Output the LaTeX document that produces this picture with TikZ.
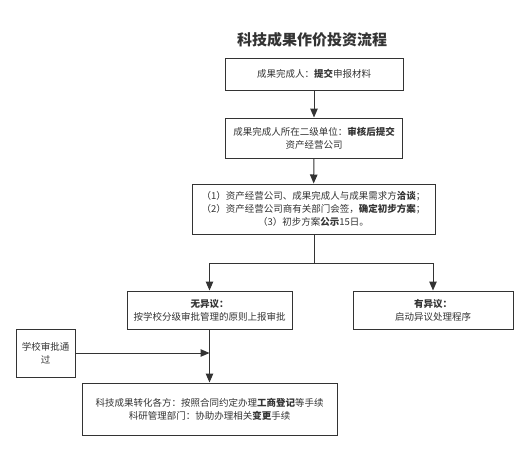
\documentclass[tikz,border=0pt]{standalone}
\usepackage{fontspec}
\newfontfamily\cjk{Noto Sans CJK SC}
\usetikzlibrary{arrows.meta}

\definecolor{linegray}{HTML}{333333}

\begin{document}
\begin{tikzpicture}[x=1pt,y=-1pt,
    box/.style={draw=linegray,line width=1pt,align=center,inner sep=0pt,
      font=\cjk\fontsize{9.5}{13}\selectfont,text=linegray},
    arr/.style={draw=linegray,line width=1pt,-{Triangle[length=9pt,width=7.5pt]}},
    conn/.style={draw=linegray,line width=1pt}]
  \useasboundingbox (0,0) rectangle (530,451);

  \node[font=\cjk\bfseries\fontsize{15}{18}\selectfont,text=linegray] (title) at (312,40) {科技成果作价投资流程};

  \node[box,minimum width=178pt,minimum height=32pt] (submit) at (314,74)
    {成果完成人：\textbf{提交}申报材料};
  \node[box,minimum width=177pt,minimum height=40pt] (unit) at (314,138)
    {成果完成人所在二级单位：\textbf{审核后提交}\\资产经营公司};
  \node[box,minimum width=243pt,minimum height=50pt] (talk) at (313.5,209)
    {（1）资产经营公司、成果完成人与成果需求方\textbf{洽谈}；\\
     （2）资产经营公司商有关部门会签，\textbf{确定初步方案}；\\
     （3）初步方案\textbf{公示}15日。};
  \node[box,minimum width=165pt,minimum height=38pt] (noobj) at (209.5,310)
    {\textbf{无异议：}\\按学校分级审批管理的原则上报审批};
  \node[box,minimum width=160pt,minimum height=38pt] (obj) at (433,310)
    {\textbf{有异议：}\\启动异议处理程序};
  \node[box,minimum width=59pt,minimum height=48pt] (school) at (45.5,353)
    {学校审批通\\过};
  \node[box,minimum width=255pt,minimum height=52pt] (final) at (209.5,409)
    {科技成果转化各方：按照合同约定办理\textbf{工商登记}等手续\\
     科研管理部门：协助办理相关\textbf{变更}手续};

  \coordinate (split) at (314,263);

  \draw[arr] (submit) -- (unit);
  \draw[arr] (unit) -- (talk);
  \draw[conn] (talk.south -| split) -- (split);
  \draw[arr] (split) -| (noobj.north);
  \draw[arr] (split) -| (obj.north);
  \draw[arr] (noobj) -- (final);
  \draw[arr] (school.east) -- (school.east -| noobj.south);
\end{tikzpicture}
\end{document}
